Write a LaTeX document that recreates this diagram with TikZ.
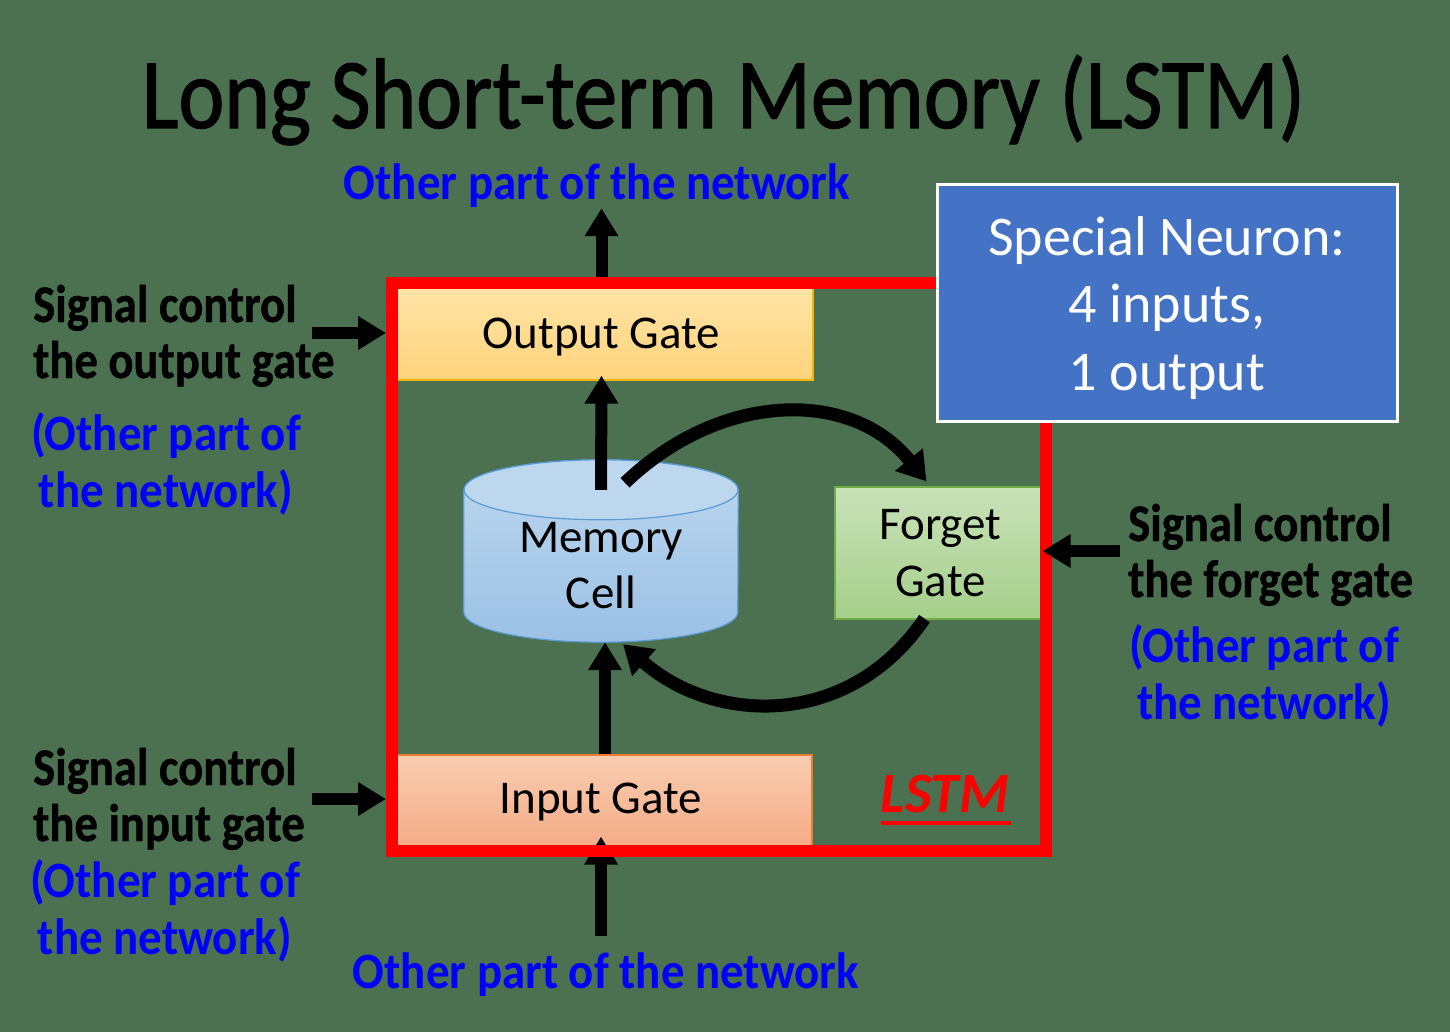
\documentclass[tikz,border=0pt]{standalone}
\usepackage{fontspec}
\setmainfont{Carlito}
\newfontfamily\titlefont{Carlito}[FakeStretch=0.87, FakeBold=1.2]
\newfontfamily\annofont{Carlito}[FakeStretch=0.88, FakeBold=0.8]
\newfontfamily\bluefont{Carlito}[FakeStretch=0.92]
\usetikzlibrary{arrows.meta,calc}
\pgfdeclarelayer{back}
\pgfdeclarelayer{front}
\pgfsetlayers{back,main,front}
\definecolor{bgc}{HTML}{4B7150}
\definecolor{ogtop}{HTML}{FFE4A6}
\definecolor{ogbot}{HTML}{FFD37C}
\definecolor{ogline}{HTML}{F2B705}
\definecolor{igtop}{HTML}{F9CDB2}
\definecolor{igbot}{HTML}{F4AA84}
\definecolor{igline}{HTML}{ED7D31}
\definecolor{fgtop}{HTML}{C9E2B9}
\definecolor{fgbot}{HTML}{A6CF8B}
\definecolor{fgline}{HTML}{70AD47}
\definecolor{mctop}{HTML}{BDD7EE}
\definecolor{mcbot}{HTML}{9BC1E6}
\definecolor{mcline}{HTML}{5B9BD5}
\definecolor{snfill}{HTML}{4472C4}
\definecolor{netblue}{HTML}{0000FF}
\definecolor{lstmred}{HTML}{FF0000}
\begin{document}
\begin{tikzpicture}[x=1pt,y=-1pt,
  gate/.style={rectangle, inner sep=0pt, line width=1.2pt, font=\fontsize{47}{57}\selectfont, align=center},
  arr/.style={line width=12pt, -{Triangle[width=32pt,length=28pt]}},
  carr/.style={line width=13pt, -{Triangle[width=34pt,length=28pt]}},
  blk/.style={inner sep=0pt, font=\annofont\bfseries\fontsize{53}{56}\selectfont, text=black},
  blu/.style={inner sep=0pt, font=\bluefont\bfseries\fontsize{51}{57}\selectfont, text=netblue}]
\useasboundingbox (0,0) rectangle (1450,1032);
\begin{pgfonlayer}{back}
\fill[bgc] (0,0) rectangle (1450,1032);
\end{pgfonlayer}

% frame and special neuron box (front layer)
\begin{pgfonlayer}{front}
\node[draw=lstmred, line width=12pt, minimum width=654pt, minimum height=568pt, inner sep=0pt] (lstm) at (719,567) {};
\node[draw=white, line width=3pt, fill=snfill, minimum width=460pt, minimum height=236pt, inner sep=0pt] (sn) at (1167,303) {};
\node[anchor=base, inner sep=0pt, text=white, font=\fontsize{56}{67.5}\selectfont] (snt) at (1167,255)
  {\begin{tabular}[t]{@{}c@{}}Special Neuron:\\4 inputs,\\1 output\end{tabular}};
\end{pgfonlayer}

% gates
\node[gate, draw=ogline, top color=ogtop, bottom color=ogbot, minimum width=423pt, minimum height=92pt, text height=30pt, text depth=2pt] (og) at (601.5,334) {Output Gate};
\node[gate, draw=igline, top color=igtop, bottom color=igbot, minimum width=422pt, minimum height=96pt, text height=30pt, text depth=9pt] (ig) at (601,803) {Input Gate};
\node[gate, draw=fgline, top color=fgtop, bottom color=fgbot, minimum width=211pt, minimum height=132pt] (fg) at (940.5,553) {Forget\\Gate};

% memory cell
\node[inner sep=0pt, minimum width=274pt, minimum height=152pt, font=\fontsize{47}{56}\selectfont, align=center] (mem) at (601,566) {Memory\\Cell};
\begin{pgfonlayer}{back}
\path[draw=mcline, line width=1.2pt, top color=mctop, bottom color=mcbot]
  (mem.north west) -- ($(mem.south west)+(0,-30)$)
  arc[start angle=180, end angle=360, x radius=137pt, y radius=30pt]
  -- (mem.north east)
  arc[start angle=0, end angle=180, x radius=137pt, y radius=30pt] -- cycle;
\draw[mcline, line width=1.2pt, fill=mctop] (mem.north) ellipse [x radius=137pt, y radius=30pt];
\end{pgfonlayer}

% texts
\node[anchor=base, inner sep=0pt, font=\titlefont\fontsize{100}{100}\selectfont] (title) at (723.5,128) {Long Short-term Memory (LSTM)};
\node[blu, anchor=base] (otop) at (597,200) {Other part of the network};
\node[blu, anchor=base] (obot) at (606,988) {Other part of the network};
\node[blk, anchor=base west] (sco) at (33,322) {\begin{tabular}[t]{@{}l@{}}Signal control\\the output gate\end{tabular}};
\node[blu, anchor=base] (neto) at (166,450) {\begin{tabular}[t]{@{}c@{}}(Other part of\\the network)\end{tabular}};
\node[blk, anchor=base west] (sci) at (33,785) {\begin{tabular}[t]{@{}l@{}}Signal control\\the input gate\end{tabular}};
\node[blu, anchor=base] (neti) at (165,897) {\begin{tabular}[t]{@{}c@{}}(Other part of\\the network)\end{tabular}};
\node[blk, anchor=base west] (scf) at (1128,541) {\begin{tabular}[t]{@{}l@{}}Signal control\\the forget gate\end{tabular}};
\node[blu, anchor=base] (netf) at (1264,662) {\begin{tabular}[t]{@{}c@{}}(Other part of\\the network)\end{tabular}};
\node[anchor=base, inner sep=0pt, text=lstmred, font=\bfseries\itshape\fontsize{57}{57}\selectfont] (lbl) at (945,812) {LSTM};
\draw[lstmred, line width=4pt] ($(lbl.base west)+(0,11)$) -- ($(lbl.base east)+(2,11)$);

% straight arrows
\draw[arr] (og.north) -- (og.north |- otop.south);
\draw[arr, shorten >=-5pt] (mem.north) -- (og.south);
\draw[arr] ($(ig.north)+(4,0)$) -- ($(mem.south)+(4,0)$);
\draw[arr, shorten <=16pt, shorten >=-15pt] (obot.north -| ig.south) -- (ig.south);

% curved arrows
\draw[carr] ($(mem.north)+(24,-7)$) .. controls ($(mem.north)+(119,-98)$) and ($(fg.north)+(-90,-99)$) .. ($(fg.north)+(-14,-5)$);
\draw[carr] ($(fg.south)+(-16,-1)$) .. controls ($(fg.south)+(-90.5,109)$) and ($(mem.south)+(114,83)$) .. ($(mem.south)+(22,2)$);

% side arrows
\begin{pgfonlayer}{front}
\coordinate (s1) at (312,333);
\coordinate (s2) at (312,799);
\coordinate (s3) at (1120,551);
\draw[arr] (s1) -- (s1 -| lstm.west);
\draw[arr] (s2) -- (s2 -| lstm.west);
\draw[arr, shorten >=-4pt] (s3) -- (s3 -| fg.east);
\end{pgfonlayer}
\end{tikzpicture}
\end{document}
